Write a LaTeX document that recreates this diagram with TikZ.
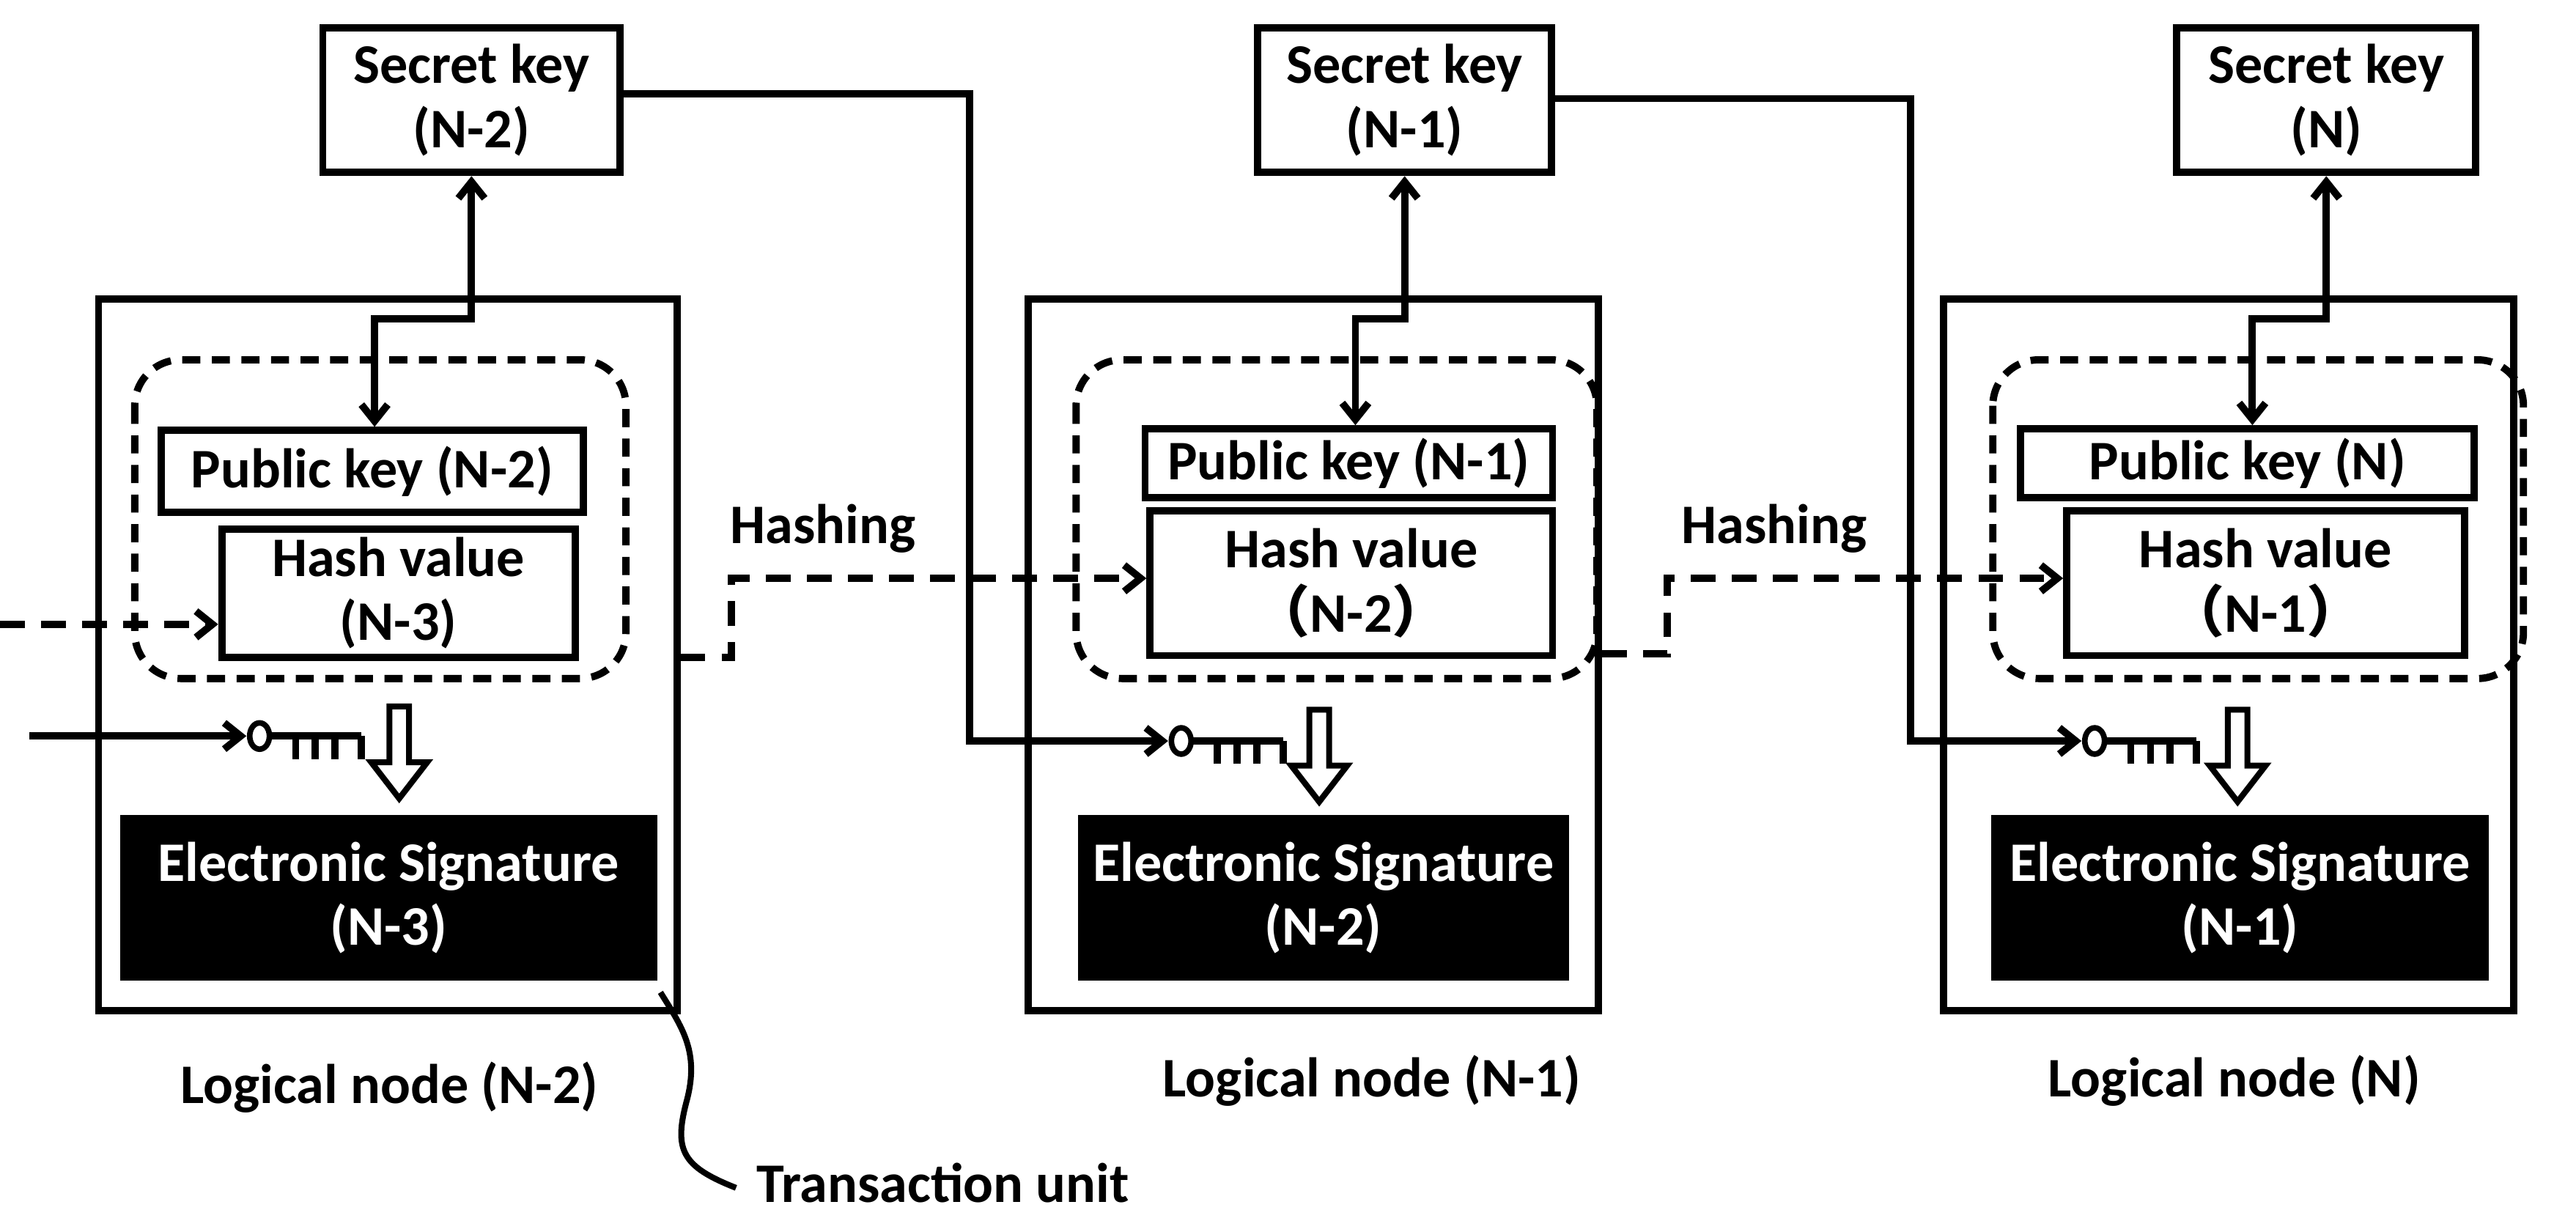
\documentclass[tikz,border=0pt]{standalone}
\usepackage{fontspec}
\setmainfont{Carlito}
\newfontfamily\cjk{Noto Sans CJK SC}
\usetikzlibrary{arrows.meta}
\begin{document}
\begin{tikzpicture}[x=1pt,y=-1pt,line width=4.4pt,
  txt/.style={font=\fontsize{34}{39}\selectfont\bfseries,align=center},
  box/.style={draw,txt,inner sep=0pt},
  dbox/.style={draw,dash pattern=on 11pt off 7pt,rounded corners=28pt},
  blk/.style={fill=black,text=white,txt,inner sep=0pt},
  arr/.style={-{Straight Barb[length=10pt,width=16pt]}},
  darr/.style={{Straight Barb[length=10pt,width=16pt]}-{Straight Barb[length=10pt,width=16pt]}},
  dsh/.style={dash pattern=on 15pt off 10pt}]
\useasboundingbox (0,0) rectangle (1568,743);
\newcommand{\keysym}[1]{%
  \begin{scope}[shift={#1}]
  \draw[line width=3.4pt] (0,0) ellipse (6 and 8);
  \draw (6,0) -- (62,0);
  \foreach \t in {22,34,46,62} \draw (\t,0) -- (\t,14);
  \end{scope}}
\newcommand{\hollow}[1]{%
  \begin{scope}[shift={#1}]
  \draw[line width=3.6pt,line join=miter] (-6,0) -- (6,0) -- (6,34) -- (17,34) -- (0,56) -- (-17,34) -- (-6,34) -- cycle;
  \end{scope}}
% outer boxes
\node[draw,minimum width=352,minimum height=433,inner sep=0] (L1) at (236,398.5) {};
\node[draw,minimum width=347,minimum height=433,inner sep=0] (L2) at (799.5,398.5) {};
\node[draw,minimum width=347,minimum height=433,inner sep=0] (L3) at (1356.5,398.5) {};
% secret keys
\node[box,minimum width=181,minimum height=88] (S1) at (287,61) {Secret key\\(N-2)};
\node[box,minimum width=179,minimum height=88] (S2) at (855,61) {Secret key\\(N-1)};
\node[box,minimum width=182,minimum height=88] (S3) at (1416,61) {Secret key\\(N)};
% dashed groups
\draw[dbox] (82,219) rectangle (381,413);
\draw[dbox] (655,219) rectangle (972,413);
\draw[dbox] (1213,219) rectangle (1536,413);
% public keys
\node[box,minimum width=257,minimum height=50] (P1) at (226.5,287) {Public key (N-2)};
\node[box,minimum width=248,minimum height=42] (P2) at (821,282) {Public key (N-1)};
\node[box,minimum width=276,minimum height=42] (P3) at (1368,282) {Public key (N)};
% hash values
\node[box,minimum width=215,minimum height=78] (H1) at (242.5,361) {Hash value\\(N-3)};
\node[box,minimum width=245,minimum height=88] (H2) at (822.5,355) {Hash value\\{\cjk （}N-2{\cjk ）}};
\node[box,minimum width=242,minimum height=88] (H3) at (1379,355) {Hash value\\{\cjk （}N-1{\cjk ）}};
% signatures
\node[blk,minimum width=327,minimum height=101] (E1) at (236.5,546.5) {Electronic Signature\\(N-3)};
\node[blk,minimum width=299,minimum height=101] (E2) at (805.5,546.5) {Electronic Signature\\(N-2)};
\node[blk,minimum width=303,minimum height=101] (E3) at (1363.5,546.5) {Electronic Signature\\(N-1)};
% labels
\node[txt] (T1) at (237,662) {Logical node (N-2)};
\node[txt] (T2) at (835,658) {Logical node (N-1)};
\node[txt] (T3) at (1360,658) {Logical node (N)};
\node[txt,anchor=west] (TU) at (455,720) {Transaction unit};
\node[txt,anchor=south] (h1) at (501,342) {Hashing};
\node[txt,anchor=south] (h2) at (1080,342) {Hashing};
% secret-public arrows
\draw[darr] (S1.south) -- (287,194) -| (P1.north -| 228,0);
\draw[darr] (S2.south) -- (855,194) -| (P2.north -| 825,0);
\draw[darr] (S3.south) -- (1416,194) -| (P3.north -| 1371,0);
% keys
\keysym{(158,448)} \hollow{(243,430)}
\keysym{(719,451)} \hollow{(803,432)}
\keysym{(1275,451)} \hollow{(1362,432)}
\coordinate (K1) at (150,448);
\coordinate (K2) at (711,451);
\coordinate (K3) at (1267,451);
\coordinate (in1) at (18,448);
\coordinate (in0) at (0,380);
\draw[arr] (in1) -- (K1);
\draw[arr] (S1.east |- 0,57) -- (590,57) -- (590,451) -- (K2);
\draw[arr] (S2.east |- 0,60) -- (1163,60) -- (1163,451) -- (K3);
% hashing dashed
\draw[arr,dsh] (in0) -- (H1.west |- in0);
\draw[arr,dsh] (L1.east |- 0,400) -- (445,400) -- (445,352) -- (H2.west |- 0,352);
\draw[arr,dsh] (L2.east |- 0,398) -- (1015,398) -- (1015,352) -- (H3.west |- 0,352);
% transaction unit curve
\draw[line width=3.6pt] (402,604) .. controls (415,625) and (426,640) .. (418,670) .. controls (410,700) and (415,710) .. (448,723);
\end{tikzpicture}
\end{document}
